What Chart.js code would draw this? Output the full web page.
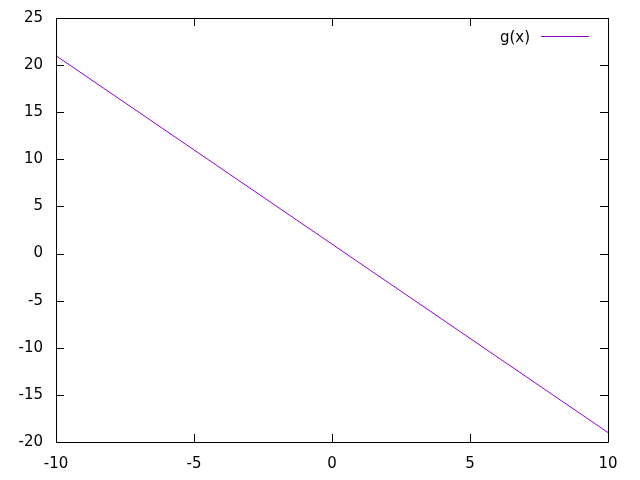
<!DOCTYPE html>
<html>
<head>
<meta charset="utf-8">
<script src="https://cdn.jsdelivr.net/npm/chart.js@4"></script>
<style>
  html, body { margin: 0; padding: 0; background: #fff; }
  #wrap { width: 640px; height: 480px; }
</style>
</head>
<body>
<div id="wrap"><canvas id="plot" width="640" height="480"></canvas></div>
<script>
// values
const xVals = [-10, -5, 0, 5, 10];
const gVals = [21, 11, 1, -9, -19];
const seriesName = 'g(x)';
const lineColor = '#9400d3';
const labelFont = { family: '"DejaVu Sans", sans-serif', size: 15 };

const points = xVals.map((x, i) => ({ x: x, y: gVals[i] }));

// gnuplot-style frame: border plus ticks pointing inward on all four sides
const frame = {
  id: 'frame',
  afterDraw(chart) {
    const ctx = chart.ctx;
    const a = chart.chartArea;
    const xs = chart.scales.x, ys = chart.scales.y;
    ctx.save();
    ctx.strokeStyle = '#000';
    ctx.lineWidth = 1;
    ctx.beginPath();
    ctx.rect(Math.round(a.left) + 0.5, Math.round(a.top) + 0.5,
      Math.round(a.right - a.left), Math.round(a.bottom - a.top));
    xs.ticks.forEach(t => {
      const px = Math.round(xs.getPixelForValue(t.value)) + 0.5;
      ctx.moveTo(px, a.bottom); ctx.lineTo(px, a.bottom - 8);
      ctx.moveTo(px, a.top); ctx.lineTo(px, a.top + 8);
    });
    ys.ticks.forEach(t => {
      const py = Math.round(ys.getPixelForValue(t.value)) + 0.5;
      ctx.moveTo(a.left, py); ctx.lineTo(a.left + 8, py);
      ctx.moveTo(a.right, py); ctx.lineTo(a.right - 8, py);
    });
    ctx.stroke();

    // key
    ctx.font = '15px "DejaVu Sans", sans-serif';
    ctx.fillStyle = '#000';
    ctx.textAlign = 'right';
    ctx.textBaseline = 'middle';
    ctx.fillText(seriesName, 530, 38);
    ctx.strokeStyle = lineColor;
    ctx.beginPath();
    ctx.moveTo(541, 36.5); ctx.lineTo(589, 36.5);
    ctx.stroke();
    ctx.restore();
  }
};

new Chart(document.getElementById('plot'), {
  type: 'line',
  data: {
    datasets: [{
      label: seriesName,
      data: points,
      borderColor: lineColor,
      borderWidth: 1,
      pointRadius: 0,
      fill: false,
      tension: 0
    }]
  },
  options: {
    responsive: false,
    animation: false,
    layout: { padding: { top: 18, right: 32, left: 0, bottom: 0 } },
    plugins: { legend: { display: false }, tooltip: { enabled: false } },
    scales: {
      x: {
        type: 'linear',
        min: -10, max: 10,
        grid: { display: false },
        border: { display: false },
        ticks: { stepSize: 5, padding: 5, color: '#000', font: labelFont, maxRotation: 0 },
        afterFit(s) { s.height = 38; }
      },
      y: {
        min: -20, max: 25,
        grid: { display: false },
        border: { display: false },
        ticks: { stepSize: 5, padding: 5, color: '#000', font: labelFont },
        afterFit(s) { s.width = 56; }
      }
    }
  },
  plugins: [frame]
});
</script>
</body>
</html>
